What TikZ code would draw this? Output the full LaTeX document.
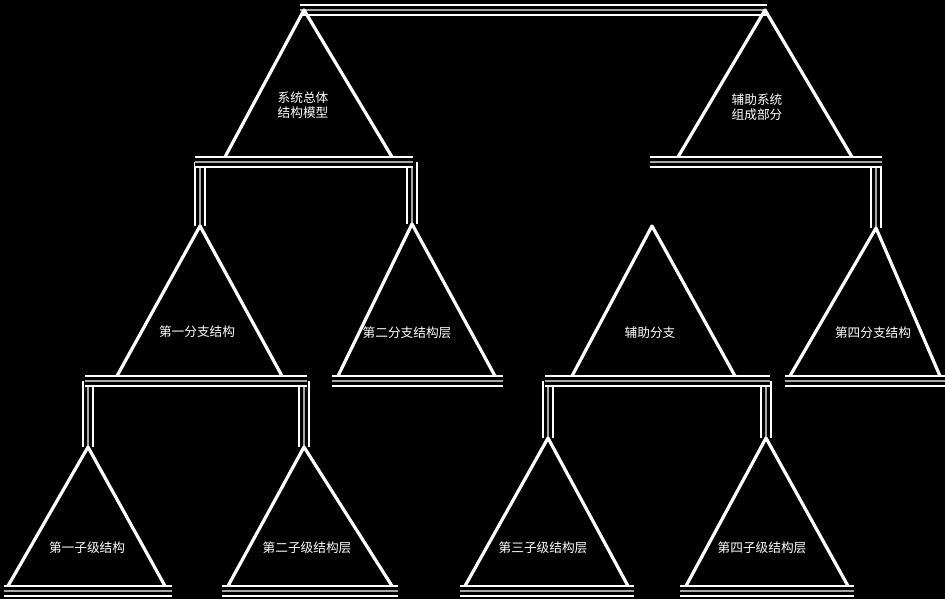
\documentclass[tikz,border=0pt]{standalone}
\usepackage{fontspec}
\newfontfamily\cjk{Noto Sans CJK SC}
\begin{document}
\begin{tikzpicture}[x=0.75pt,y=-0.75pt,
  edge/.style={draw=white, line width=2.4pt, line join=round},
  bar/.style={draw=white, line width=1.4pt, double=black, double distance=6.5pt},
  barmid/.style={draw=gray!70, line width=1.1pt},
  lbl/.style={text=white, font=\cjk\fontsize{9.5}{11}\selectfont, align=center, inner sep=0pt}]
\fill[black] (0,0) rectangle (945,599);
\useasboundingbox (0,0) rectangle (945,599);

% triangle corner coordinates
\coordinate (t1a) at (304,10);  \coordinate (t1l) at (225,157); \coordinate (t1r) at (392,157);
\coordinate (t2a) at (765,10);  \coordinate (t2l) at (678,157); \coordinate (t2r) at (852,157);
\coordinate (t3a) at (200,226); \coordinate (t3l) at (117,376); \coordinate (t3r) at (282,376);
\coordinate (t4a) at (412,224); \coordinate (t4l) at (338,376); \coordinate (t4r) at (495,376);
\coordinate (t5a) at (652,226); \coordinate (t5l) at (572,376); \coordinate (t5r) at (735,376);
\coordinate (t6a) at (876,228); \coordinate (t6l) at (790,376); \coordinate (t6r) at (940,376);
\coordinate (t7a) at (88,447);  \coordinate (t7l) at (8,586);   \coordinate (t7r) at (165,586);
\coordinate (t8a) at (304,447); \coordinate (t8l) at (228,586); \coordinate (t8r) at (392,586);
\coordinate (t9a) at (548,438); \coordinate (t9l) at (465,586); \coordinate (t9r) at (628,586);
\coordinate (t10a) at (766,438); \coordinate (t10l) at (686,586); \coordinate (t10r) at (848,586);

% bar end points
\coordinate (b0l) at (300,10);  \coordinate (b0r) at (767,10);
\coordinate (b1l) at (195,162); \coordinate (b1r) at (413,162);
\coordinate (b1v1) at (200,162); \coordinate (b1v2) at (412,162);
\coordinate (b2l) at (650,162); \coordinate (b2r) at (882,162);
\coordinate (b2v) at (876,162);
\coordinate (b3l) at (85,381);  \coordinate (b3r) at (307,381);
\coordinate (b3v1) at (88,381); \coordinate (b3v2) at (304,381);
\coordinate (b4l) at (332,381); \coordinate (b4r) at (503,381);
\coordinate (b5l) at (545,381); \coordinate (b5r) at (770,381);
\coordinate (b5v1) at (548,381); \coordinate (b5v2) at (766,381);
\coordinate (b6l) at (785,381); \coordinate (b6r) at (945,381);
\coordinate (b7l) at (4,591);   \coordinate (b7r) at (172,591);
\coordinate (b8l) at (222,591); \coordinate (b8r) at (398,591);
\coordinate (b9l) at (460,591); \coordinate (b9r) at (634,591);
\coordinate (b10l) at (680,591); \coordinate (b10r) at (854,591);

% vertical connectors
\foreach \p/\q in {b1v1/t3a, b1v2/t4a, b2v/t6a, b3v1/t7a, b3v2/t8a, b5v1/t9a, b5v2/t10a}{
  \draw[bar] (\p) -- (\q);
  \draw[barmid] (\p) -- (\q);
}
% horizontal bars
\foreach \p/\q in {b0l/b0r, b1l/b1r, b2l/b2r, b3l/b3r, b4l/b4r, b5l/b5r, b6l/b6r, b7l/b7r, b8l/b8r, b9l/b9r, b10l/b10r}{
  \draw[bar] (\p) -- (\q);
  \draw[barmid] (\p) -- (\q);
}
% triangle sides
\foreach \t in {t1,t2,t3,t4,t5,t6,t7,t8,t9,t10}{
  \draw[edge] (\t l) -- (\t a) -- (\t r);
}

% labels
\node[lbl] (n1) at (303,105) {系统总体\\结构模型};
\node[lbl] (n2) at (757,107) {辅助系统\\组成部分};
\node[lbl] (n3) at (197,332) {第一分支结构};
\node[lbl] (n4) at (407,333) {第二分支结构层};
\node[lbl] (n5) at (650,333) {辅助分支};
\node[lbl] (n6) at (873,333) {第四分支结构};
\node[lbl] (n7) at (87,548) {第一子级结构};
\node[lbl] (n8) at (307,548) {第二子级结构层};
\node[lbl] (n9) at (543,548) {第三子级结构层};
\node[lbl] (n10) at (762,548) {第四子级结构层};
\end{tikzpicture}
\end{document}
